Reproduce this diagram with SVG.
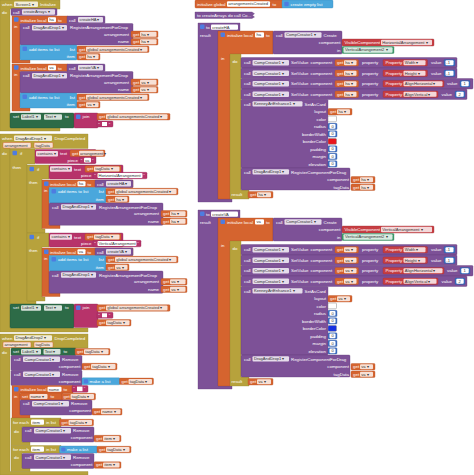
<svg xmlns="http://www.w3.org/2000/svg" width="474" height="475" viewBox="0 0 474 475">
<style>
.ev,.ct{fill:#B7A23C;stroke:#9a8730;stroke-width:.35}
.pr{fill:#7D5197;stroke:#623d7b;stroke-width:.35}
.vr{fill:#D5642F;stroke:#b44f22;stroke-width:.35}
.ls{fill:#4AA7DC;stroke:#3489bb;stroke-width:.35}
.tx{fill:#B7336A;stroke:#952553;stroke-width:.35}
.st{fill:#2D6B47;stroke:#1f5033;stroke-width:.35}
.mt{fill:#3D6EC2;stroke:#2c559c;stroke-width:.35}
.hp{fill:#C73E43;stroke:#a02c31;stroke-width:.35}
.cp{fill:#3F9C6C;stroke:#2d7d53;stroke-width:.35}
.gr{fill:#4E7CE0}
.f{fill:#fff;fill-opacity:.8}
.w{fill:#fff}
.pf{fill:#f6e1d2;stroke:#D5642F;stroke-width:.5}
.sw{stroke:#888;stroke-width:.5}
text{font-family:"Liberation Sans",Arial,sans-serif;font-size:4.4px;fill:#fff}
text.d{fill:#333;font-size:4.1px}
text.r{text-anchor:end}
</style>
<defs>
<g id="initA">
<path class="vr" d="M12,16H68V23.5H20V60H30V63H12Z"/>
<rect class="gr" x="14" y="17.3" width="4.5" height="4.5" rx="1"/>
<text x="20.5" y="21.6">initialize local</text>
<rect class="w" x="48" y="17.3" width="8" height="5" rx="1"/>
<text x="58" y="21.6">to</text>
<rect class="pr" x="67" y="16" width="38" height="7.5" rx="1"/>
<text x="69" y="21.6">call</text>
<rect class="f" x="78" y="17" width="25" height="5.5" rx="1"/>
<text x="14" y="28">in</text>
<rect class="pr" x="20" y="23.5" width="113" height="21.5" rx="1"/>
<text x="23" y="29.2">call</text>
<rect class="f" x="32" y="25" width="35" height="5.5" rx="1"/><text class="d" x="33.5" y="29.1">DragAndDrop1 ▾</text>
<text x="70" y="29.2">RegisterArrangementForDrop</text>
<text class="r" x="129" y="35.6">arrangement</text>
<text class="r" x="129" y="43">name</text>
<rect class="vr" x="131" y="31" width="27" height="6.5" rx="1"/><text x="133" y="35.6">get</text><rect class="f" x="140" y="31.8" width="16.5" height="5" rx="1"/>
<rect class="vr" x="131" y="38.5" width="27" height="6.5" rx="1"/><text x="133" y="43.1">get</text><rect class="f" x="140" y="39.3" width="16.5" height="5" rx="1"/>
<rect class="ls" x="20" y="45" width="57" height="15" rx="1"/>
<rect class="gr" x="22.5" y="46.5" width="4.5" height="4.5" rx="1"/>
<text x="29" y="50.6">add items to list</text>
<text class="r" x="75" y="50.6">list</text>
<text class="r" x="75" y="58.1">item</text>
<rect class="vr" x="77" y="46" width="72" height="6.5" rx="1"/><text x="79" y="50.6">get</text><rect class="f" x="86" y="46.8" width="61.5" height="5" rx="1"/><text class="d" x="87.3" y="50.5">global arrangementsCreated ▾</text>
<rect class="vr" x="77" y="53.5" width="23" height="6.5" rx="1"/><text x="79" y="58.1">get</text><rect class="f" x="86" y="54.3" width="12.5" height="5" rx="1"/>
</g>
<g id="ifA">
<path class="ct" d="M27,165H49V179H42V229H45V233H27Z"/>
<rect class="gr" x="29.5" y="166.8" width="4.5" height="4.5" rx="1"/>
<text x="37" y="171">if</text>
<text x="29" y="184.3">then</text>
<rect class="tx" x="49" y="165" width="74" height="14" rx="1"/>
<rect class="f" x="50" y="166.3" width="22" height="5.5" rx="1"/><text class="d" x="51.5" y="170.4">contains ▾</text>
<text x="74" y="170.6">text</text>
<rect class="vr" x="85" y="165.7" width="36" height="6.5" rx="1"/><text x="87" y="170.3">get</text><rect class="f" x="94" y="166.5" width="25.5" height="5" rx="1"/><text class="d" x="95.3" y="170.2">tagData ▾</text>
<text class="r" x="91.5" y="177.2">piece</text>
<path class="vr" d="M42,180H133V187.5H49V225H60V228.5H42Z"/>
<rect class="gr" x="44" y="181.5" width="4.5" height="4.5" rx="1"/>
<text x="50" y="185.6">initialize local</text>
<rect class="w" x="77.5" y="181.3" width="8" height="5" rx="1"/>
<text x="87.5" y="185.6">to</text>
<rect class="pr" x="95" y="180" width="38" height="7.5" rx="1"/>
<text x="97" y="185.6">call</text>
<rect class="f" x="106" y="181" width="25" height="5.5" rx="1"/>
<text x="44" y="192">in</text>
<rect class="ls" x="49" y="187.5" width="57" height="15.5" rx="1"/>
<rect class="gr" x="51.5" y="189" width="4.5" height="4.5" rx="1"/>
<text x="58" y="193">add items to list</text>
<text class="r" x="104" y="193">list</text>
<text class="r" x="104" y="200.6">item</text>
<rect class="vr" x="106" y="188.3" width="72" height="6.5" rx="1"/><text x="108" y="192.9">get</text><rect class="f" x="115" y="189.1" width="61.5" height="5" rx="1"/><text class="d" x="116.3" y="192.8">global arrangementsCreated ▾</text>
<rect class="vr" x="106" y="196" width="23" height="6.5" rx="1"/><text x="108" y="200.6">get</text><rect class="f" x="115" y="196.8" width="12.5" height="5" rx="1"/>
<rect class="pr" x="49" y="203" width="114" height="22.3" rx="1"/>
<text x="52" y="208.6">call</text>
<rect class="f" x="61" y="204.3" width="35" height="5.5" rx="1"/><text class="d" x="62.5" y="208.4">DragAndDrop1 ▾</text>
<text x="99" y="208.6">RegisterArrangementForDrop</text>
<text class="r" x="159" y="215.2">arrangement</text>
<text class="r" x="159" y="222.6">name</text>
<rect class="vr" x="161" y="210.5" width="26" height="6.5" rx="1"/><text x="163" y="215.1">get</text><rect class="f" x="170" y="211.3" width="15.5" height="5" rx="1"/>
<rect class="vr" x="161" y="218" width="26" height="6.5" rx="1"/><text x="163" y="222.6">get</text><rect class="f" x="170" y="218.8" width="15.5" height="5" rx="1"/>
</g>
<g id="proc">
<path class="pr" d="M198,23H240V31H218V199H232V202H198Z"/>
<rect class="gr" x="200" y="24.6" width="4.5" height="4.5" rx="1"/>
<text x="206" y="29">to</text>
<rect class="w" x="211" y="24.5" width="27" height="5.2" rx="1"/>
<text x="200" y="36.6">result</text>
<path class="vr" d="M218,31H273V54H230V199H218Z"/>
<rect class="gr" x="220.5" y="32.5" width="4.5" height="4.5" rx="1"/>
<text x="227" y="36.6">initialize local</text>
<rect class="w" x="255" y="32.3" width="9" height="5.2" rx="1"/>
<text x="266" y="36.6">to</text>
<text x="221" y="59.5">in</text>
<rect class="pr" x="273" y="31" width="69" height="23" rx="1"/>
<text x="276" y="36.6">call</text>
<rect class="f" x="284.5" y="32.3" width="37" height="5.4" rx="1"/><text class="d" x="286" y="36.4">CompCreator1 ▾</text>
<text x="323.5" y="36.6">Create</text>
<text class="r" x="340.5" y="44">component</text>
<text class="r" x="340.5" y="51.5">in</text>
<rect class="hp" x="342" y="39" width="92" height="7" rx="1"/>
<text x="344.5" y="44">VisibleComponent</text>
<rect class="f" x="381" y="39.8" width="51" height="5.4" rx="1"/>
<rect class="cp" x="342" y="46.5" width="52" height="7" rx="1"/>
<rect class="f" x="343.5" y="47.3" width="49" height="5.4" rx="1"/><text class="d" x="345" y="51.4">VerticalArrangement2 ▾</text>
<path class="ct" d="M230,54H241V190H249V199H230Z"/>
<text x="232.5" y="62.5">do</text>
<text x="231.5" y="196.3">result</text>
<rect class="vr" x="248" y="191.5" width="25" height="6.5" rx="1"/><text x="250" y="196.1">get</text><rect class="f" x="257" y="192.3" width="14" height="5" rx="1"/>
<!-- SetValue rows -->
<rect class="pr" x="241" y="57.5" width="216" height="10.5" rx="1"/>
<text x="244" y="64.2">call</text>
<rect class="f" x="252.5" y="60" width="36.5" height="5.5" rx="1"/><text class="d" x="254" y="64.1">CompCreator1 ▾</text>
<text x="291" y="64.2">SetValue</text>
<text x="310.5" y="64.2">component</text>
<rect class="vr" x="335" y="59.5" width="23.5" height="6.5" rx="1"/><text x="337" y="64.1">get</text><rect class="f" x="344" y="60.3" width="12.5" height="5" rx="1"/>
<text x="362" y="64.2">property</text>
<rect class="hp" x="383" y="59.5" width="44.5" height="6.5" rx="1"/><text x="385.5" y="64.1">Property</text><rect class="f" x="403.5" y="60.3" width="22" height="5" rx="1"/><text class="d" x="404.8" y="64">Width ▾</text>
<text x="431" y="64.2">value</text>
<rect class="mt" x="444" y="59.5" width="11" height="6.5" rx="1"/><rect class="w" x="445.5" y="60.3" width="8" height="5" rx="1"/><text class="d" x="446.3" y="64">-1</text>

<rect class="pr" x="241" y="68" width="216" height="10.5" rx="1"/>
<text x="244" y="74.7">call</text>
<rect class="f" x="252.5" y="70.5" width="36.5" height="5.5" rx="1"/><text class="d" x="254" y="74.6">CompCreator1 ▾</text>
<text x="291" y="74.7">SetValue</text>
<text x="310.5" y="74.7">component</text>
<rect class="vr" x="335" y="70" width="23.5" height="6.5" rx="1"/><text x="337" y="74.6">get</text><rect class="f" x="344" y="70.8" width="12.5" height="5" rx="1"/>
<text x="362" y="74.7">property</text>
<rect class="hp" x="383" y="70" width="44.5" height="6.5" rx="1"/><text x="385.5" y="74.6">Property</text><rect class="f" x="403.5" y="70.8" width="22" height="5" rx="1"/><text class="d" x="404.8" y="74.5">Height ▾</text>
<text x="431" y="74.7">value</text>
<rect class="mt" x="444" y="70" width="11" height="6.5" rx="1"/><rect class="w" x="445.5" y="70.8" width="8" height="5" rx="1"/><text class="d" x="446.3" y="74.5">-1</text>

<rect class="pr" x="241" y="78.5" width="232" height="10.5" rx="1"/>
<text x="244" y="85.2">call</text>
<rect class="f" x="252.5" y="81" width="36.5" height="5.5" rx="1"/><text class="d" x="254" y="85.1">CompCreator1 ▾</text>
<text x="291" y="85.2">SetValue</text>
<text x="310.5" y="85.2">component</text>
<rect class="vr" x="335" y="80.5" width="23.5" height="6.5" rx="1"/><text x="337" y="85.1">get</text><rect class="f" x="344" y="81.3" width="12.5" height="5" rx="1"/>
<text x="362" y="85.2">property</text>
<rect class="hp" x="383" y="80.5" width="61" height="6.5" rx="1"/><text x="385.5" y="85.1">Property</text><rect class="f" x="403.5" y="81.3" width="39" height="5" rx="1"/><text class="d" x="404.8" y="85">AlignHorizontal ▾</text>
<text x="447" y="85.2">value</text>
<rect class="mt" x="460" y="80.5" width="10" height="6.5" rx="1"/><rect class="w" x="461.3" y="81.3" width="7.4" height="5" rx="1"/><text class="d" x="463.6" y="85">1</text>

<rect class="pr" x="241" y="89" width="226" height="10.5" rx="1"/>
<text x="244" y="95.7">call</text>
<rect class="f" x="252.5" y="91.5" width="36.5" height="5.5" rx="1"/><text class="d" x="254" y="95.6">CompCreator1 ▾</text>
<text x="291" y="95.7">SetValue</text>
<text x="310.5" y="95.7">component</text>
<rect class="vr" x="335" y="91" width="23.5" height="6.5" rx="1"/><text x="337" y="95.6">get</text><rect class="f" x="344" y="91.8" width="12.5" height="5" rx="1"/>
<text x="362" y="95.7">property</text>
<rect class="hp" x="383" y="91" width="55" height="6.5" rx="1"/><text x="385.5" y="95.6">Property</text><rect class="f" x="403.5" y="91.8" width="33" height="5" rx="1"/><text class="d" x="404.8" y="95.5">AlignVertical ▾</text>
<text x="441.5" y="95.7">value</text>
<rect class="mt" x="455" y="91" width="10" height="6.5" rx="1"/><rect class="w" x="456.3" y="91.8" width="7.4" height="5" rx="1"/><text class="d" x="458.6" y="95.5">2</text>
<!-- SetAsCard -->
<rect class="pr" x="241" y="99.5" width="87" height="68.5" rx="1"/>
<text x="244" y="105.6">call</text>
<rect class="f" x="252.5" y="101.2" width="50" height="5.4" rx="1"/><text class="d" x="254" y="105.3">KenneyArtEnhance1 ▾</text>
<text x="304.5" y="105.6">SetAsCard</text>
<text class="r" x="326" y="113.2">layout</text>
<text class="r" x="326" y="120.6">color</text>
<text class="r" x="326" y="128.1">radius</text>
<text class="r" x="326" y="135.6">borderWidth</text>
<text class="r" x="326" y="143.1">borderColor</text>
<text class="r" x="326" y="150.6">padding</text>
<text class="r" x="326" y="158.1">margin</text>
<text class="r" x="326" y="165.6">elevation</text>
<rect class="vr" x="328" y="108.5" width="24" height="6.5" rx="1"/><text x="330" y="113.1">get</text><rect class="f" x="337" y="109.3" width="13" height="5" rx="1"/>
<rect class="w sw" x="328" y="116" width="8.5" height="5.8" rx="1"/>
<rect class="mt" x="328" y="123.3" width="9" height="6.3" rx="1"/><rect class="w" x="329.5" y="124.1" width="6" height="4.7" rx="1"/><text class="d" x="331.4" y="127.9">0</text>
<rect class="mt" x="328" y="130.8" width="9" height="6.3" rx="1"/><rect class="w" x="329.5" y="131.6" width="6" height="4.7" rx="1"/><text class="d" x="331.4" y="135.4">0</text>
<rect class="mt" x="328" y="145.8" width="9" height="6.3" rx="1"/><rect class="w" x="329.5" y="146.6" width="6" height="4.7" rx="1"/><text class="d" x="331.4" y="150.4">0</text>
<rect class="mt" x="328" y="153.3" width="9" height="6.3" rx="1"/><rect class="w" x="329.5" y="154.1" width="6" height="4.7" rx="1"/><text class="d" x="331.4" y="157.9">0</text>
<rect class="mt" x="328" y="160.8" width="9" height="6.3" rx="1"/><rect class="w" x="329.5" y="161.6" width="6" height="4.7" rx="1"/><text class="d" x="331.4" y="165.4">0</text>
<!-- RegisterComponentForDrag -->
<rect class="pr" x="241" y="168" width="109" height="22" rx="1"/>
<text x="244" y="173.5">call</text>
<rect class="f" x="252.5" y="169.2" width="36.5" height="5.4" rx="1"/><text class="d" x="254" y="173.3">DragAndDrop1 ▾</text>
<text x="291" y="173.5">RegisterComponentForDrag</text>
<text class="r" x="349" y="181">component</text>
<text class="r" x="349" y="188.5">tagData</text>
<rect class="vr" x="351" y="176.5" width="24" height="6.5" rx="1"/><text x="353" y="181.1">get</text><rect class="f" x="360" y="177.3" width="13" height="5" rx="1"/>
<rect class="vr" x="351" y="184" width="24" height="6.5" rx="1"/><text x="353" y="188.6">get</text><rect class="f" x="360" y="184.8" width="13" height="5" rx="1"/>
</g>
</defs>

<g id="screen1-initialize">
<path class="ev" d="M0,0H60V9H10V127H60V131H0Z"/>
<text x="2" y="5.8">when</text>
<rect class="f" x="14" y="1.5" width="24" height="5.5" rx="1"/><text class="d" x="15.5" y="5.7">Screen1 ▾</text>
<text x="40" y="5.8">Initialize</text>
<text x="2" y="13.5">do</text>
<rect class="pr" x="11" y="8.5" width="46" height="7" rx="1"/>
<text x="13" y="13.6">call</text>
<rect class="f" x="22" y="9.3" width="33" height="5.4" rx="1"/><text class="d" x="23.5" y="13.4">createArrays ▾</text>
<use href="#initA"/>
<text class="d" x="49.3" y="21.1">ha</text>
<text class="d" x="79.5" y="21.1">createHA ▾</text>
<text class="d" x="141.3" y="35.5">ha ▾</text>
<text class="d" x="141.3" y="43">ha ▾</text>
<text class="d" x="87.3" y="58">ha ▾</text>
<use href="#initA" y="48"/>
<text class="d" x="49.3" y="69.1">va</text>
<text class="d" x="79.5" y="69.1">createVA ▾</text>
<text class="d" x="141.3" y="83.5">va ▾</text>
<text class="d" x="141.3" y="91">va ▾</text>
<text class="d" x="87.3" y="106">va ▾</text>
<rect class="st" x="10" y="113" width="64" height="15" rx="1"/>
<text x="13" y="118.2">set</text>
<rect class="f" x="21" y="114.3" width="20" height="5.5" rx="1"/><text class="d" x="22.3" y="118.4">Label1 ▾</text>
<rect class="f" x="44" y="114.3" width="18" height="5.5" rx="1"/><text class="d" x="45.3" y="118.4">Text ▾</text>
<text x="65" y="118.2">to</text>
<rect class="tx" x="74" y="113" width="24" height="15" rx="1"/>
<rect class="gr" x="76" y="114.5" width="4.5" height="4.5" rx="1"/>
<text x="82.5" y="118.2">join</text>
<rect class="vr" x="97" y="113.5" width="73" height="6.5" rx="1"/><text x="99" y="118.1">get</text><rect class="f" x="106" y="114.3" width="61.5" height="5" rx="1"/><text class="d" x="107.3" y="118">global arrangementsCreated ▾</text>
<rect class="tx" x="97" y="121" width="16" height="6" rx="1"/><text x="98.2" y="125.6">“</text><rect class="w" x="102" y="122" width="5" height="4"/><text x="108.8" y="125.6">”</text>
</g>

<g id="dropcompleted-1">
<path class="ev" d="M0,134H88V148.5H10V328H88V332H0Z"/>
<text x="2" y="139.8">when</text>
<rect class="f" x="14" y="135.5" width="38" height="5.5" rx="1"/><text class="d" x="15.5" y="139.6">DragAndDrop1 ▾</text>
<text x="54.5" y="139.8">DropCompleted</text>
<rect class="pf" x="3" y="142.5" width="28" height="5.5" rx="1"/><text class="d" x="4.5" y="146.6">arrangement</text>
<rect class="pf" x="34" y="142.5" width="19" height="5.5" rx="1"/><text class="d" x="35.5" y="146.6">tagData</text>
<text x="2" y="155">do</text>
<path class="ct" d="M10,149H35V164H27V301H36V304H10Z"/>
<rect class="gr" x="12.5" y="150.8" width="4.5" height="4.5" rx="1"/>
<text x="20" y="155">if</text>
<text x="12.5" y="169">then</text>
<rect class="tx" x="35" y="149.5" width="61" height="14" rx="1"/>
<rect class="f" x="36" y="151" width="22" height="5.5" rx="1"/><text class="d" x="37.5" y="155.1">contains ▾</text>
<text x="60" y="155.2">text</text>
<rect class="vr" x="70" y="150" width="35" height="6.5" rx="1"/><text x="72" y="154.6">get</text><rect class="f" x="79" y="150.8" width="24.5" height="5" rx="1"/><text class="d" x="80" y="154.5">arrangement ▾</text>
<text class="r" x="78" y="162">piece</text>
<rect class="tx" x="79.5" y="157" width="16" height="6.3" rx="1"/><text x="80.7" y="161.6">“</text><rect class="w" x="84" y="157.8" width="7" height="4.7" rx="1"/><text class="d" x="85" y="161.5">va</text><text x="92" y="161.6">”</text>
<use href="#ifA"/>
<rect class="tx" x="93" y="172.3" width="54" height="6.5" rx="1"/><text x="94.2" y="177">“</text><rect class="w" x="97.5" y="173.1" width="45" height="4.9" rx="1"/><text class="d" x="98.5" y="176.9">HorizontalArrangement</text><text x="143.3" y="177">”</text>
<text class="d" x="78.8" y="185.1">ha</text>
<text class="d" x="107.5" y="185.1">createHA ▾</text>
<text class="d" x="116.3" y="200.5">ha ▾</text>
<text class="d" x="171.3" y="215">ha ▾</text>
<text class="d" x="171.3" y="222.5">ha ▾</text>
<use href="#ifA" y="68"/>
<rect class="tx" x="93" y="240.3" width="48" height="6.5" rx="1"/><text x="94.2" y="245">“</text><rect class="w" x="97.5" y="241.1" width="39" height="4.9" rx="1"/><text class="d" x="98.5" y="244.9">VerticalArrangement</text><text x="137.3" y="245">”</text>
<text class="d" x="78.8" y="253.1">va</text>
<text class="d" x="107.5" y="253.1">createVA ▾</text>
<text class="d" x="116.3" y="268.5">va ▾</text>
<text class="d" x="171.3" y="283">va ▾</text>
<text class="d" x="171.3" y="290.5">va ▾</text>
<rect class="st" x="10" y="304" width="64" height="24" rx="1"/>
<text x="13" y="309.2">set</text>
<rect class="f" x="21" y="305.3" width="20" height="5.5" rx="1"/><text class="d" x="22.3" y="309.4">Label1 ▾</text>
<rect class="f" x="44" y="305.3" width="18" height="5.5" rx="1"/><text class="d" x="45.3" y="309.4">Text ▾</text>
<text x="65" y="309.2">to</text>
<rect class="tx" x="74" y="304" width="24" height="23.5" rx="1"/>
<rect class="gr" x="76" y="305.5" width="4.5" height="4.5" rx="1"/>
<text x="82.5" y="309.2">join</text>
<rect class="vr" x="97" y="304.7" width="73" height="6.5" rx="1"/><text x="99" y="309.3">get</text><rect class="f" x="106" y="305.5" width="61.5" height="5" rx="1"/><text class="d" x="107.3" y="309.2">global arrangementsCreated ▾</text>
<rect class="tx" x="97" y="312.3" width="16" height="6" rx="1"/><text x="98.2" y="316.9">“</text><rect class="w" x="102" y="313.3" width="5" height="4"/><text x="108.8" y="316.9">”</text>
<rect class="vr" x="97" y="319.5" width="34" height="6.5" rx="1"/><text x="99" y="324.1">get</text><rect class="f" x="106" y="320.3" width="23.5" height="5" rx="1"/><text class="d" x="107.3" y="324">tagData ▾</text>
</g>

<g id="dropcompleted-2">
<path class="ev" d="M0,334H88V348H10V471.5H88V475H0Z"/>
<text x="2" y="339.6">when</text>
<rect class="f" x="14" y="335.3" width="38" height="5.5" rx="1"/><text class="d" x="15.5" y="339.4">DragAndDrop2 ▾</text>
<text x="54.5" y="339.6">DropCompleted</text>
<rect class="pf" x="3" y="342" width="28" height="5.5" rx="1"/><text class="d" x="4.5" y="346.1">arrangement</text>
<rect class="pf" x="34" y="342" width="19" height="5.5" rx="1"/><text class="d" x="35.5" y="346.1">tagData</text>
<text x="2" y="354">do</text>
<rect class="st" x="11" y="348" width="65" height="7.5" rx="1"/>
<text x="13" y="353.2">set</text>
<rect class="f" x="21" y="349" width="20" height="5.5" rx="1"/><text class="d" x="22.3" y="353.1">Label1 ▾</text>
<rect class="f" x="43.5" y="349" width="17" height="5.5" rx="1"/><text class="d" x="44.8" y="353.1">Text ▾</text>
<text x="63.5" y="353.2">to</text>
<rect class="vr" x="75" y="348.5" width="35" height="6.5" rx="1"/><text x="77" y="353.1">get</text><rect class="f" x="84" y="349.3" width="24.5" height="5" rx="1"/><text class="d" x="85.3" y="353">tagData ▾</text>

<rect class="pr" x="11" y="355.5" width="71" height="15" rx="1"/>
<text x="14" y="360.8">call</text>
<rect class="f" x="23" y="356.6" width="37" height="5.5" rx="1"/><text class="d" x="24.5" y="360.7">CompCreator1 ▾</text>
<text x="62" y="360.8">Remove</text>
<text class="r" x="80.5" y="367.8">component</text>
<rect class="vr" x="82" y="363.3" width="35" height="6.5" rx="1"/><text x="84" y="367.9">get</text><rect class="f" x="91" y="364.1" width="24.5" height="5" rx="1"/><text class="d" x="92.3" y="367.8">tagData ▾</text>

<rect class="pr" x="11" y="370.5" width="71" height="15" rx="1"/>
<text x="14" y="375.8">call</text>
<rect class="f" x="23" y="371.6" width="37" height="5.5" rx="1"/><text class="d" x="24.5" y="375.7">CompCreator1 ▾</text>
<text x="62" y="375.8">Remove</text>
<text class="r" x="80.5" y="382.8">component</text>
<rect class="ls" x="82" y="377.8" width="38" height="7" rx="1"/><rect class="gr" x="83.8" y="379.2" width="4.2" height="4.2" rx="1"/><text x="89.5" y="382.8">make a list</text>
<rect class="vr" x="119.5" y="378.1" width="34" height="6.5" rx="1"/><text x="121.5" y="382.7">get</text><rect class="f" x="128.5" y="378.9" width="23.5" height="5" rx="1"/><text class="d" x="129.8" y="382.6">tagData ▾</text>

<path class="vr" d="M12,385.5H73V393H20V414.5H30V418H12Z"/>
<rect class="gr" x="14" y="387" width="4.5" height="4.5" rx="1"/>
<text x="20.5" y="391">initialize local</text>
<rect class="w" x="47.5" y="386.7" width="14" height="5" rx="1"/><text class="d" x="48.7" y="390.5">name</text>
<text x="63.5" y="391">to</text>
<rect class="tx" x="72" y="385.6" width="16" height="6.6" rx="1"/><text x="73.2" y="390.4">“</text><rect class="w" x="77" y="386.6" width="5.5" height="4.6"/><text x="83.8" y="390.4">”</text>
<text x="14" y="398">in</text>
<rect class="vr" x="20" y="393" width="43" height="7" rx="1"/>
<text x="22" y="398">set</text>
<rect class="f" x="29.5" y="394" width="18" height="5" rx="1"/><text class="d" x="30.8" y="397.7">name ▾</text>
<text x="50.5" y="398">to</text>
<rect class="vr" x="61.5" y="393.3" width="34" height="6.5" rx="1"/><text x="63.5" y="397.9">get</text><rect class="f" x="70.5" y="394.1" width="23.5" height="5" rx="1"/><text class="d" x="71.8" y="397.8">tagData ▾</text>
<rect class="pr" x="20" y="400" width="72" height="15" rx="1"/>
<text x="23" y="405.3">call</text>
<rect class="f" x="32" y="401.1" width="37" height="5.5" rx="1"/><text class="d" x="33.5" y="405.2">CompCreator1 ▾</text>
<text x="71" y="405.3">Remove</text>
<text class="r" x="91" y="412.3">component</text>
<rect class="vr" x="92" y="408.5" width="30" height="6.5" rx="1"/><text x="94" y="413.1">get</text><rect class="f" x="101" y="409.3" width="19.5" height="5" rx="1"/><text class="d" x="102.3" y="413">name ▾</text>

<path class="ct" d="M11,418H61V427H22V442H30V445.5H11Z"/>
<text x="13" y="423.8">for each</text>
<rect class="w" x="31" y="419.6" width="13" height="5.2" rx="1"/><text class="d" x="32.3" y="423.5">item</text>
<text x="46" y="423.8">in list</text>
<rect class="vr" x="59.5" y="419.3" width="34" height="6.5" rx="1"/><text x="61.5" y="423.9">get</text><rect class="f" x="68.5" y="420.1" width="23.5" height="5" rx="1"/><text class="d" x="69.8" y="423.8">tagData ▾</text>
<text x="14" y="432.5">do</text>
<rect class="pr" x="22" y="427" width="72" height="15" rx="1"/>
<text x="25" y="432.3">call</text>
<rect class="f" x="34" y="428.1" width="37" height="5.5" rx="1"/><text class="d" x="35.5" y="432.2">CompCreator1 ▾</text>
<text x="73" y="432.3">Remove</text>
<text class="r" x="92.5" y="439.3">component</text>
<rect class="vr" x="94" y="435.3" width="27" height="6.5" rx="1"/><text x="96" y="439.9">get</text><rect class="f" x="103" y="436.1" width="16.5" height="5" rx="1"/><text class="d" x="104.3" y="439.8">item ▾</text>

<path class="ct" d="M11,445.5H61V453H22V468H30V471.5H11Z"/>
<text x="13" y="450.8">for each</text>
<rect class="w" x="31" y="446.6" width="13" height="5.2" rx="1"/><text class="d" x="32.3" y="450.5">item</text>
<text x="46" y="450.8">in list</text>
<rect class="ls" x="59.5" y="446" width="38" height="7" rx="1"/><rect class="gr" x="61.3" y="447.4" width="4.2" height="4.2" rx="1"/><text x="67" y="451">make a list</text>
<rect class="vr" x="97" y="446.3" width="34" height="6.5" rx="1"/><text x="99" y="450.9">get</text><rect class="f" x="106" y="447.1" width="23.5" height="5" rx="1"/><text class="d" x="107.3" y="450.8">tagData ▾</text>
<text x="14" y="459">do</text>
<rect class="pr" x="22" y="453.5" width="72" height="15" rx="1"/>
<text x="25" y="458.8">call</text>
<rect class="f" x="34" y="454.6" width="37" height="5.5" rx="1"/><text class="d" x="35.5" y="458.7">CompCreator1 ▾</text>
<text x="73" y="458.8">Remove</text>
<text class="r" x="92.5" y="465.8">component</text>
<rect class="vr" x="94" y="461.8" width="27" height="6.5" rx="1"/><text x="96" y="466.4">get</text><rect class="f" x="103" y="462.6" width="16.5" height="5" rx="1"/><text class="d" x="104.3" y="466.3">item ▾</text>
</g>

<g id="global-arrangementsCreated">
<rect class="vr" x="195" y="0" width="88" height="8" rx="1"/>
<text x="197" y="5.6">initialize global</text>
<rect class="w" x="227" y="1.3" width="43" height="5.4" rx="1"/><text class="d" x="228.2" y="5.3">arrangementsCreated</text>
<text x="272.5" y="5.6">to</text>
<rect class="ls" x="282" y="0" width="51" height="8" rx="1"/>
<rect class="gr" x="284.3" y="1.8" width="4.4" height="4.4" rx="1"/>
<text x="290.5" y="5.6">create empty list</text>
</g>

<g id="createArrays-collapsed">
<path class="pr" d="M195,12H252L254.5,13.7L252.5,15.3L254.5,17L252,18.5H195Z"/>
<text x="197" y="16.9">to createArrays do call Co...</text>
</g>

<g id="createHA">
<use href="#proc"/>
<text class="d" x="212.3" y="28.5">createHA</text>
<text class="d" x="256.5" y="36.3">ha</text>
<text class="d" x="382.3" y="43.9">HorizontalArrangement ▾</text>
<text class="d" x="345.3" y="64">ha ▾</text>
<text class="d" x="345.3" y="74.5">ha ▾</text>
<text class="d" x="345.3" y="85">ha ▾</text>
<text class="d" x="345.3" y="95.5">ha ▾</text>
<text class="d" x="338.3" y="113">ha ▾</text>
<rect class="sw" x="328" y="138.5" width="8.5" height="5.8" rx="1" fill="#E8141B"/>
<text class="d" x="361.3" y="181">ha ▾</text>
<text class="d" x="361.3" y="188.5">ha ▾</text>
<text class="d" x="258.3" y="196">ha ▾</text>
</g>

<g id="createVA" transform="translate(0,187)">
<use href="#proc"/>
<text class="d" x="212.3" y="28.5">createVA</text>
<text class="d" x="256.5" y="36.3">va</text>
<text class="d" x="382.3" y="43.9">VerticalArrangement ▾</text>
<text class="d" x="345.3" y="64">va ▾</text>
<text class="d" x="345.3" y="74.5">va ▾</text>
<text class="d" x="345.3" y="85">va ▾</text>
<text class="d" x="345.3" y="95.5">va ▾</text>
<text class="d" x="338.3" y="113">va ▾</text>
<rect class="sw" x="328" y="138.5" width="8.5" height="5.8" rx="1" fill="#1530E0"/>
<text class="d" x="361.3" y="181">va ▾</text>
<text class="d" x="361.3" y="188.5">va ▾</text>
<text class="d" x="258.3" y="196">va ▾</text>
</g>
</svg>
